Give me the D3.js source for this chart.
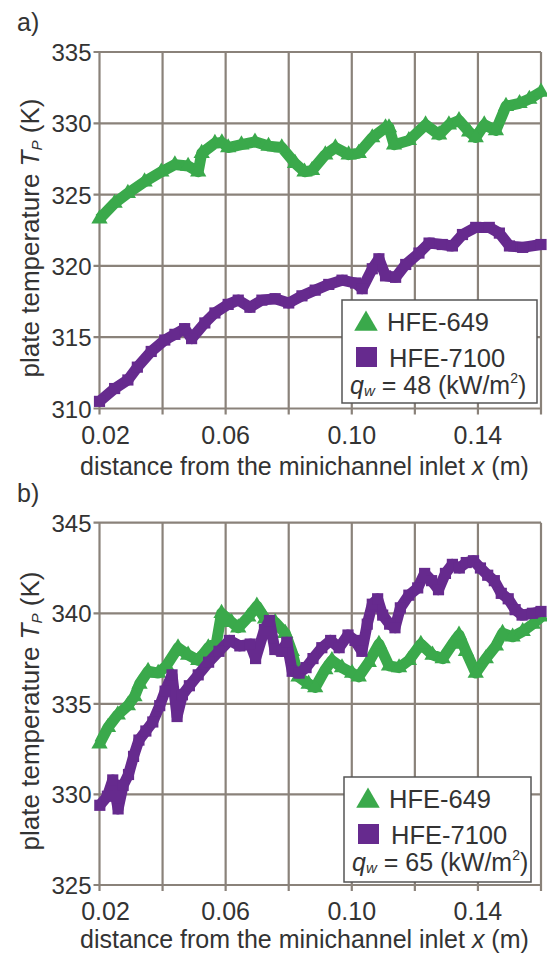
<!DOCTYPE html>
<html>
  <head>
    <meta charset="utf-8">
    <title>Plate temperature</title>
    <script src="https://cdn.jsdelivr.net/npm/d3@7"></script>
    <style>
      body { margin: 0; background: #fff; }
      text { font-family: "Liberation Sans", Arial, sans-serif; fill: #333; }
    </style>
  </head>
  <body>
    <script>

// ticks shared by both panels
var xTicks = [0.02, 0.04, 0.06, 0.08, 0.10, 0.12, 0.14, 0.16];
var xTickLabels = ["0.02", "0.06", "0.10", "0.14"];
var xLabelAt = [0.02, 0.06, 0.10, 0.14];

// panel a) qw = 48 kW/m2
var aTicks = [310, 315, 320, 325, 330, 335];
var aGreenX = [0.0200, 0.0248, 0.0290, 0.0343, 0.0396, 0.0439, 0.0481, 0.0513, 0.0524, 0.0566,
               0.0588, 0.0608, 0.0650, 0.0693, 0.0736, 0.0778, 0.0820, 0.0850, 0.0874, 0.0916,
               0.0948, 0.0990, 0.1022, 0.1065, 0.1107, 0.1118, 0.1134, 0.1181, 0.1234, 0.1277,
               0.1308, 0.1340, 0.1372, 0.1393, 0.1420, 0.1457, 0.1489, 0.1532, 0.1563, 0.1600];
var aGreenT = [323.3, 324.4, 325.1, 325.9, 326.6, 327.1, 327.0, 326.6, 327.9, 328.6,
               328.65, 328.3, 328.5, 328.7, 328.4, 328.3, 327.2, 326.6, 326.7, 327.8,
               328.3, 327.8, 327.9, 329.0, 329.7, 329.7, 328.5, 328.8, 329.9, 329.2,
               329.9, 330.2, 329.4, 329.0, 329.9, 329.5, 331.2, 331.4, 331.7, 332.2];
var aPurpleX = [0.0200, 0.0248, 0.0290, 0.0320, 0.0364, 0.0407, 0.0439, 0.0470, 0.0492, 0.0534,
                0.0566, 0.0608, 0.0640, 0.0677, 0.0715, 0.0757, 0.0800, 0.0842, 0.0884, 0.0927,
                0.0969, 0.1012, 0.1033, 0.1065, 0.1086, 0.1107, 0.1139, 0.1171, 0.1213, 0.1245,
                0.1287, 0.1319, 0.1351, 0.1393, 0.1436, 0.1468, 0.1500, 0.1542, 0.1600];
var aPurpleT = [310.5, 311.4, 312.0, 312.9, 314.0, 314.8, 315.2, 315.6, 314.9, 316.0,
                316.7, 317.3, 317.6, 317.1, 317.6, 317.7, 317.4, 317.9, 318.3, 318.7,
                319.0, 318.8, 318.4, 319.8, 320.5, 319.3, 319.2, 320.1, 320.9, 321.6,
                321.5, 321.4, 322.2, 322.7, 322.7, 322.3, 321.4, 321.3, 321.5];

// panel b) qw = 65 kW/m2
var bTicks = [325, 330, 335, 340, 345];
var bGreenX = [0.0200, 0.0227, 0.0258, 0.0290, 0.0311, 0.0327, 0.0354, 0.0386, 0.0412, 0.0449,
               0.0481, 0.0513, 0.0545, 0.0571, 0.0587, 0.0619, 0.0640, 0.0672, 0.0699, 0.0725,
               0.0757, 0.0789, 0.0810, 0.0831, 0.0863, 0.0884, 0.0916, 0.0937, 0.0969, 0.1001,
               0.1022, 0.1054, 0.1086, 0.1118, 0.1150, 0.1181, 0.1219, 0.1256, 0.1288, 0.1319,
               0.1340, 0.1362, 0.1393, 0.1425, 0.1457, 0.1478, 0.1510, 0.1542, 0.1574, 0.1600];
var bGreenT = [332.8, 333.7, 334.4, 334.9, 335.4, 336.1, 336.8, 336.7, 337.1, 338.1,
               337.7, 337.4, 338.1, 338.4, 340.0, 339.5, 339.2, 339.8, 340.4, 339.7,
               339.5, 338.9, 337.9, 336.5, 336.1, 335.9, 336.9, 337.4, 337.0, 336.7,
               336.5, 337.3, 338.3, 337.1, 337.0, 337.4, 338.3, 337.7, 337.5, 338.3,
               338.8, 337.9, 336.7, 337.5, 338.2, 338.9, 338.7, 339.0, 339.4, 339.8];
var bPurpleX = [0.0201, 0.0225, 0.0242, 0.0259, 0.0275, 0.0292, 0.0308, 0.0325, 0.0347, 0.0369,
                0.0391, 0.0408, 0.0430, 0.0446, 0.0463, 0.0485, 0.0513, 0.0546, 0.0579, 0.0612,
                0.0645, 0.0678, 0.0695, 0.0723, 0.0739, 0.0756, 0.0778, 0.0794, 0.0811, 0.0833,
                0.0855, 0.0877, 0.0905, 0.0933, 0.0960, 0.0988, 0.1010, 0.1032, 0.1049, 0.1065,
                0.1082, 0.1098, 0.1120, 0.1137, 0.1154, 0.1181, 0.1209, 0.1231, 0.1253, 0.1275,
                0.1297, 0.1319, 0.1341, 0.1363, 0.1386, 0.1408, 0.1431, 0.1452, 0.1474, 0.1496,
                0.1518, 0.1540, 0.1573, 0.1600];
var bPurpleT = [329.4, 329.9, 330.8, 329.2, 330.5, 331.1, 332.1, 333.0, 333.5, 334.0,
                334.9, 335.7, 336.6, 334.3, 335.5, 336.0, 336.6, 337.3, 337.9, 338.5,
                338.2, 338.3, 337.5, 339.1, 339.6, 338.0, 337.9, 338.4, 336.8, 336.7,
                337.0, 337.5, 338.1, 338.5, 338.1, 338.8, 338.5, 337.9, 339.4, 340.5,
                340.8, 339.9, 339.4, 339.2, 340.3, 341.0, 341.4, 342.2, 341.8, 341.3,
                342.2, 342.7, 342.5, 342.8, 342.9, 342.5, 342.1, 341.8, 341.1, 340.8,
                340.2, 339.9, 340.0, 340.1];

var green = "#3aa94b";
var purple = "#662a8e";
var gridColor = "#8a827a";

var w = 547;
var h = 955;

var svg = d3.select("body")
  .append("svg")
  .attr("width", w)
  .attr("height", h);

var xScale = d3.scaleLinear()
  .domain([0.02, 0.16])
  .range([99.5, 541]);

function zip(xs, ts) {
  return xs.map(function(x, i) { return [x, ts[i]]; });
}

function drawPanel(p) {
  var yScale = d3.scaleLinear()
    .domain([p.ticks[0], p.ticks[p.ticks.length - 1]])
    .range([p.bottom, p.top]);

  var g = svg.append("g");

  // grid + ticks (axis ticks pushed out past the frame)
  g.selectAll(".vgrid")
    .data(xTicks)
    .enter()
    .append("line")
    .attr("x1", function(d) { return xScale(d); })
    .attr("x2", function(d) { return xScale(d); })
    .attr("y1", p.top)
    .attr("y2", p.bottom + 6)
    .attr("stroke", gridColor)
    .attr("stroke-width", 2.2);

  g.selectAll(".hgrid")
    .data(p.ticks)
    .enter()
    .append("line")
    .attr("x1", xScale(0.02) - 6)
    .attr("x2", xScale(0.16))
    .attr("y1", function(d) { return yScale(d); })
    .attr("y2", function(d) { return yScale(d); })
    .attr("stroke", gridColor)
    .attr("stroke-width", 2.2);

  // tick labels
  g.selectAll(".ylab")
    .data(p.ticks)
    .enter()
    .append("text")
    .attr("x", xScale(0.02) - 8)
    .attr("y", function(d) { return yScale(d) + 9; })
    .attr("text-anchor", "end")
    .attr("font-size", "24px")
    .text(function(d) { return d; });

  g.selectAll(".xlab")
    .data(xLabelAt)
    .enter()
    .append("text")
    .attr("x", function(d, i) { return xScale(d) + (i === 0 ? 6 : 0); })
    .attr("y", p.bottom + 35)
    .attr("text-anchor", "middle")
    .attr("font-size", "25px")
    .text(function(d, i) { return xTickLabels[i]; });

  // axis titles
  var xt = g.append("text")
    .attr("x", 80)
    .attr("y", p.bottom + p.xTitleOff)
    .attr("font-size", "25px");
  xt.append("tspan").text("distance from the minichannel inlet ");
  xt.append("tspan").attr("font-style", "italic").text("x");
  xt.append("tspan").text(" (m)");

  var yt = g.append("text")
    .attr("transform", "translate(39," + p.titleY + ") rotate(-90)")
    .attr("text-anchor", "middle")
    .attr("font-size", "26px");
  yt.append("tspan").text("plate temperature ");
  yt.append("tspan").attr("font-style", "italic").text("T");
  yt.append("tspan").attr("font-style", "italic").attr("font-size", "15px").attr("dy", 3).text("P");
  yt.append("tspan").attr("dy", -3).text(" (K)");

  g.append("text")
    .attr("x", 17)
    .attr("y", p.top - 21)
    .attr("font-size", "25px")
    .text(p.label);

  // series: thick band + dense markers
  var line = d3.line()
    .x(function(d) { return xScale(d[0]); })
    .y(function(d) { return yScale(d[1]); });

  var series = [
    { data: zip(p.greenX, p.greenT), color: green, symbol: d3.symbolTriangle, size: 115 },
    { data: zip(p.purpleX, p.purpleT), color: purple, symbol: d3.symbolSquare, size: 125 }
  ];

  series.forEach(function(s) {
    g.append("path")
      .datum(s.data)
      .attr("d", line)
      .attr("fill", "none")
      .attr("stroke", s.color)
      .attr("stroke-width", 11)
      .attr("stroke-linejoin", "round");

    g.selectAll(null)
      .data(s.data)
      .enter()
      .append("path")
      .attr("d", d3.symbol().type(s.symbol).size(s.size))
      .attr("transform", function(d) {
        return "translate(" + xScale(d[0]) + "," + yScale(d[1]) + ")";
      })
      .attr("fill", s.color);
  });

  // legend box
  var lg = g.append("g")
    .attr("transform", "translate(" + p.legX + "," + p.legY + ")");
  lg.append("rect")
    .attr("width", p.legW)
    .attr("height", p.legH)
    .attr("fill", "#fff")
    .attr("stroke", "#555")
    .attr("stroke-width", 1.5);
  lg.append("path")
    .attr("d", d3.symbol().type(d3.symbolTriangle).size(240))
    .attr("transform", "translate(24,24)")
    .attr("fill", green);
  lg.append("text")
    .attr("x", 45).attr("y", 31)
    .attr("font-size", "25.5px")
    .text("HFE-649");
  lg.append("rect")
    .attr("x", 14).attr("y", 47)
    .attr("width", 21).attr("height", 20)
    .attr("fill", purple);
  lg.append("text")
    .attr("x", 47).attr("y", 67)
    .attr("font-size", "25.5px")
    .text("HFE-7100");
  var q = lg.append("text")
    .attr("x", 8).attr("y", 94)
    .attr("font-size", "25px");
  q.append("tspan").attr("font-style", "italic").text("q");
  q.append("tspan").attr("font-style", "italic").attr("font-size", "15px").attr("dy", 2).text("w");
  q.append("tspan").attr("dy", -2).text(" = " + p.qw + " (kW/m");
  q.append("tspan").attr("font-size", "14px").attr("dy", -11).text("2");
  q.append("tspan").attr("dy", 11).text(")");
}

drawPanel({
  label: "a)", qw: 48,
  ticks: aTicks, top: 52, bottom: 408.5, titleY: 238, xTitleOff: 66,
  greenX: aGreenX, greenT: aGreenT, purpleX: aPurpleX, purpleT: aPurpleT,
  legX: 342, legY: 300, legW: 195, legH: 103
});

drawPanel({
  label: "b)", qw: 65,
  ticks: bTicks, top: 522.7, bottom: 885, titleY: 711, xTitleOff: 63,
  greenX: bGreenX, greenT: bGreenT, purpleX: bPurpleX, purpleT: bPurpleT,
  legX: 344, legY: 777, legW: 187, legH: 105
});

    </script>
  </body>
</html>
